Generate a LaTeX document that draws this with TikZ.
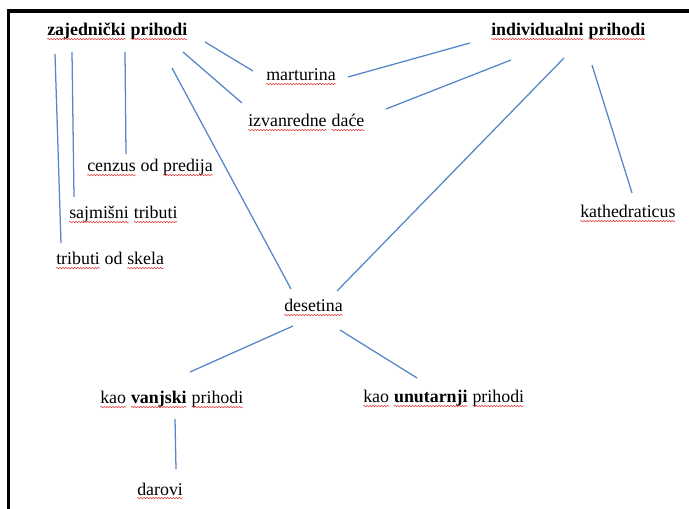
\documentclass[tikz,border=0pt]{standalone}
\usepackage{fontspec}
\setmainfont{Liberation Serif}
\usetikzlibrary{decorations.pathmorphing}

\definecolor{linkblue}{RGB}{84,134,200}
\definecolor{spellred}{RGB}{225,60,60}

% red wavy underline under a word
\newcommand{\spell}[1]{\tikz[baseline=(w.base)]{\node[inner sep=0pt, outer sep=0pt] (w) {#1};
  \draw[spellred, line width=0.4pt, decorate, decoration={snake, amplitude=0.55pt, segment length=2.2pt}]
    ([yshift=-2.3pt]w.base west) -- ([yshift=-2.3pt]w.base east);}}

\begin{document}
\begin{tikzpicture}[
    x=0.75pt, y=-0.75pt,
    lbl/.style = {inner sep=0pt, outer sep=0pt, anchor=base west, font=\fontsize{13.4}{16}\selectfont},
    link/.style = {draw=linkblue, line width=0.95pt}
]
\useasboundingbox (0,0) rectangle (689,509);
\draw[line width=2.6pt] (8.5,509) -- (8.5,11) -- (689,11);

% Top row
\node[lbl] (zaj) at (47,36)  {\textbf{\spell{zajednički} \spell{prihodi}}};
\node[lbl] (ind) at (491,36) {\textbf{\spell{individualni} \spell{prihodi}}};

% Middle
\node[lbl] (mart)   at (266,81)  {\spell{marturina}};
\node[lbl] (izv)    at (248,127) {\spell{izvanredne} \spell{daće}};
\node[lbl] (cenzus) at (87,172)  {\spell{cenzus} od \spell{predija}};
\node[lbl] (sajm)   at (69,219)  {\spell{sajmišni} \spell{tributi}};
\node[lbl] (trib)   at (56,265)  {\spell{tributi} od \spell{skela}};
\node[lbl] (kath)   at (580,218) {\spell{kathedraticus}};
\node[lbl] (des)    at (284,312) {\spell{desetina}};

% Bottom
\node[lbl] (vanj) at (100,404) {\spell{kao} \textbf{\spell{vanjski}} \spell{prihodi}};
\node[lbl] (unut) at (363,403) {\spell{kao} \textbf{\spell{unutarnji}} \spell{prihodi}};
\node[lbl] (dar)  at (137,495) {\spell{darovi}};

% Edges
\draw[link] ([shift={(158,6)}]zaj.base west)  -- ([shift={(-13,-10)}]mart.base west);
\draw[link] ([shift={(136,16)}]zaj.base west) -- ([shift={(-6,-24)}]izv.base west);
\draw[link] ([shift={(125,32)}]zaj.base west) -- ([shift={(7,-23)}]des.base west);
\draw[link] ([shift={(78,16)}]zaj.base west)  -- ([shift={(39,-18)}]cenzus.base west);
\draw[link] ([shift={(25,16)}]zaj.base west)  -- ([shift={(5,-22)}]sajm.base west);
\draw[link] ([shift={(8,18)}]zaj.base west)   -- ([shift={(5,-22)}]trib.base west);
\draw[link] ([shift={(-21,7)}]ind.base west)  -- ([shift={(82,-4)}]mart.base west);
\draw[link] ([shift={(20,24)}]ind.base west)  -- ([shift={(138,-18)}]izv.base west);
\draw[link] ([shift={(73,22)}]ind.base west)  -- ([shift={(53,-21)}]des.base west);
\draw[link] ([shift={(101,29)}]ind.base west) -- ([shift={(52,-25)}]kath.base west);
\draw[link] ([shift={(9,14)}]des.base west)   -- ([shift={(90,-32)}]vanj.base west);
\draw[link] ([shift={(56,18)}]des.base west)  -- ([shift={(54,-25)}]unut.base west);
\draw[link] ([shift={(75,15)}]vanj.base west) -- ([shift={(39,-26)}]dar.base west);

\end{tikzpicture}
\end{document}
